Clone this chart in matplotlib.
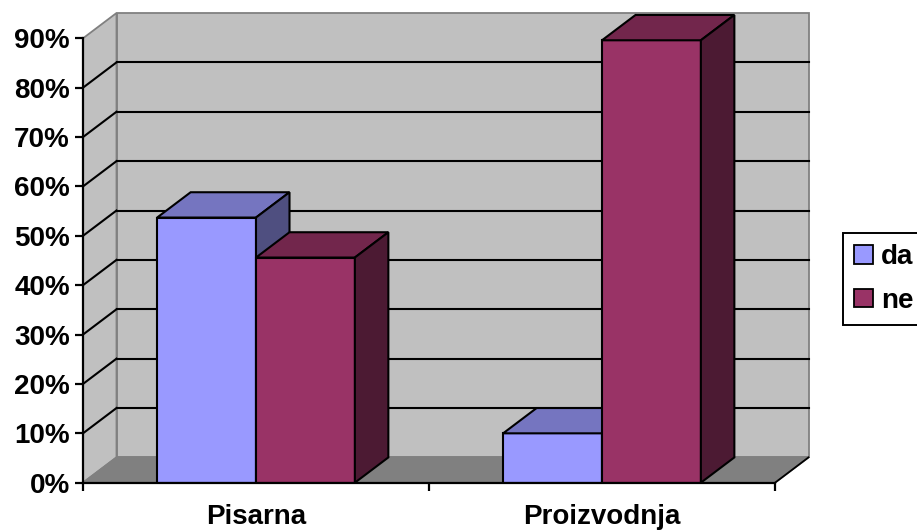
import matplotlib.pyplot as plt
from matplotlib.patches import Polygon, Patch

categories = ["Pisarna", "Proizvodnja"]
series_names = ["da", "ne"]
da_values = [53.7, 10.0]
ne_values = [45.6, 89.6]
y_ticks = [0, 10, 20, 30, 40, 50, 60, 70, 80, 90]
y_labels = ["0%", "10%", "20%", "30%", "40%", "50%", "60%", "70%", "80%", "90%"]

front_colors = ["#9999FF", "#993366"]
top_colors = ["#7575C0", "#72264C"]
side_colors = ["#4F4F80", "#4C1A33"]

W, H = 917, 532
fig = plt.figure(figsize=(W / 100, H / 100), dpi=100)
fig.patch.set_facecolor("white")
plt.rcParams["font.family"] = ["Liberation Sans", "DejaVu Sans"]
fsize = 20

# plot area of the front plane, in pixels
x0_px, x1_px, y0_px, y1_px = 83, 775, 482.7, 38.3
ax = fig.add_axes([x0_px / W, 1 - y0_px / H, (x1_px - x0_px) / W, (y0_px - y1_px) / H])
ax.set_xlim(0, len(categories))
ax.set_ylim(0, 90)
ax.set_facecolor("none")

# oblique depth offset in data units
px_per_cat = (x1_px - x0_px) / len(categories)
px_per_pct = (y0_px - y1_px) / 90
dx = 33.5 / px_per_cat
dy = 25.3 / px_per_pct
ymax = 90
ncat = len(categories)

wall = "#C0C0C0"
edge = "#808080"
grid_lw = 1.5
bar_lw = 1.5

# back wall, side wall, floor
ax.add_patch(Polygon([(dx, dy), (ncat + dx, dy), (ncat + dx, ymax + dy), (dx, ymax + dy)],
                     closed=True, facecolor=wall, edgecolor=edge, lw=1.3, clip_on=False, zorder=0))
ax.add_patch(Polygon([(0, 0), (dx, dy), (dx, ymax + dy), (0, ymax)],
                     closed=True, facecolor=wall, edgecolor=edge, lw=1.3, clip_on=False, zorder=0))
ax.add_patch(Polygon([(0, 0), (ncat, 0), (ncat + dx, dy), (dx, dy)],
                     closed=True, facecolor="#808080", edgecolor=edge, lw=1.3, clip_on=False, zorder=0.5))
ax.plot([ncat, ncat + dx], [0, dy], color="black", lw=1.3, clip_on=False, zorder=0.6)

# gridlines on back and side wall
for t in y_ticks[1:-1]:
    ax.plot([dx, ncat + dx], [t + dy, t + dy], color="black", lw=grid_lw, clip_on=False, zorder=1)
    ax.plot([0, dx], [t, t + dy], color="black", lw=grid_lw, clip_on=False, zorder=1)

# bars
gap = 1.5
bw = 1 / (len(series_names) + gap)
order = 3
for ci in range(ncat):
    for si, vals in enumerate([da_values, ne_values]):
        v = vals[ci]
        left = ci + gap / 2 * bw + si * bw
        ax.bar(left, v, width=bw, align="edge", color=front_colors[si],
               edgecolor="black", linewidth=bar_lw, zorder=order)
        r = left + bw
        ax.add_patch(Polygon([(left, v), (r, v), (r + dx, v + dy), (left + dx, v + dy)],
                             closed=True, facecolor=top_colors[si], edgecolor="black",
                             lw=bar_lw, joinstyle="miter", clip_on=False, zorder=order))
        ax.add_patch(Polygon([(r, 0), (r + dx, dy), (r + dx, v + dy), (r, v)],
                             closed=True, facecolor=side_colors[si], edgecolor="black",
                             lw=bar_lw, joinstyle="miter", clip_on=False, zorder=order))
        order += 1

# axes
for s in ["top", "right"]:
    ax.spines[s].set_visible(False)
for s in ["left", "bottom"]:
    ax.spines[s].set_color("black")
    ax.spines[s].set_linewidth(1.6)
    ax.spines[s].set_zorder(20)

ax.set_yticks(y_ticks)
ax.set_yticklabels(y_labels, fontsize=fsize, fontweight="bold")
ax.tick_params(axis="y", direction="out", length=6, width=1.6, pad=3.4, color="black")

ax.set_xticks(range(ncat + 1))
ax.set_xticklabels([""] * (ncat + 1))
ax.tick_params(axis="x", which="major", direction="out", length=6, width=1.6, color="black")
ax.set_xticks([i + 0.5 for i in range(ncat)], minor=True)
ax.set_xticklabels(categories, minor=True, fontsize=fsize, fontweight="bold")
ax.tick_params(axis="x", which="minor", length=0, pad=15.5)

handles = [Patch(facecolor=front_colors[i], edgecolor="black", linewidth=1.3) for i in range(2)]
leg = fig.legend(handles, series_names, loc="upper left",
                 bbox_to_anchor=(843.3 / W, 1 - 233.3 / H),
                 prop={"size": fsize, "weight": "bold"},
                 frameon=True, fancybox=False, framealpha=1,
                 handlelength=0.66, handleheight=0.66, handletextpad=0.3,
                 borderpad=0.4, labelspacing=0.62, borderaxespad=0)
leg.get_frame().set_edgecolor("black")
leg.get_frame().set_linewidth(1.4)

fig.savefig("out.png", dpi=100)
